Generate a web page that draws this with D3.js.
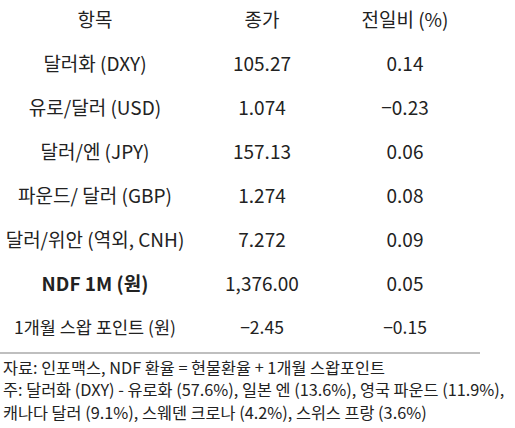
<!DOCTYPE html>
<html><head><meta charset="utf-8">
<script src="https://cdn.jsdelivr.net/npm/d3@7"></script>
<style>body{margin:0;background:#fff}</style>
</head><body>
<script>
const headers = ['항목', '종가', '전일비 (%)'];
const items = ['달러화 (DXY)', '유로/달러 (USD)', '달러/엔 (JPY)', '파운드/ 달러 (GBP)', '달러/위안 (역외, CNH)', 'NDF 1M (원)', '1개월 스왑 포인트 (원)'];
const closes = ['105.27', '1.074', '157.13', '1.274', '7.272', '1,376.00', '−2.45'];
const changes = ['0.14', '−0.23', '0.06', '0.08', '0.09', '0.05', '−0.15'];
const notes = ['자료: 인포맥스, NDF 환율 = 현물환율 + 1개월 스왑포인트',
  '주: 달러화 (DXY) - 유로화 (57.6%), 일본 엔 (13.6%), 영국 파운드 (11.9%),',
  '캐나다 달러 (9.1%), 스웨덴 크로나 (4.2%), 스위스 프랑 (3.6%)'];

const svg = d3.select('body').append('svg').attr('width', 515).attr('height', 428)
  .style('font-family', '"Noto Sans CJK KR", "Noto Sans", sans-serif');

const x = d3.scalePoint().domain([0, 1, 2]).range([95, 405]);
const colX = i => i === 1 ? 262 : x(i);
const y = d3.scaleLinear().domain([0, 7]).range([20, 328]);

const rows = [headers].concat(items.map((d, i) => [d, closes[i], changes[i]]));
rows.forEach((r, ri) => {
  svg.selectAll(null).data(r).join('text')
    .attr('x', (d, i) => colX(i)).attr('y', y(ri)).attr('dy', '0.35em')
    .attr('text-anchor', 'middle').attr('font-size', ri === 7 ? 17.5 : 19)
    .attr('fill', '#222')
    .style('font-weight', (d, i) => ri === 6 && i === 0 ? 700 : 400)
    .text(d => d);
});

svg.append('line').attr('x1', 0).attr('x2', 480).attr('y1', 353).attr('y2', 353)
  .attr('stroke', '#aaa').attr('stroke-width', 1.5);

svg.selectAll('.note').data(notes).join('text').attr('class', 'note')
  .attr('x', 3).attr('y', (d, i) => 368 + i * 22.5).attr('dy', '0.35em')
  .attr('font-size', 16.3).attr('fill', '#222').text(d => d);
</script>
</body></html>
